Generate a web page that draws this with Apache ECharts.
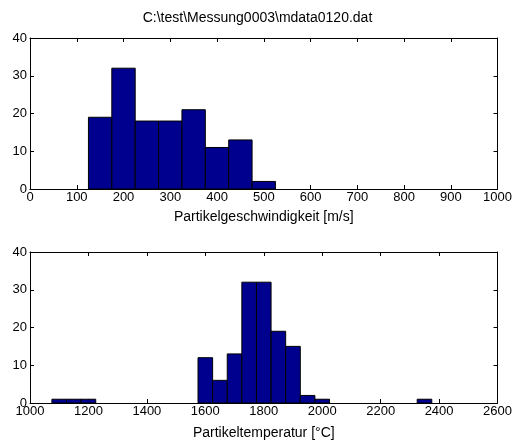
<!DOCTYPE html>
<html>
<head>
<meta charset="utf-8">
<script src="https://cdn.jsdelivr.net/npm/echarts@6/dist/echarts.min.js"></script>
<style>html,body{margin:0;padding:0;background:#fff}#c{width:515px;height:441px}</style>
</head>
<body>
<div id="c"></div>
<script>
// ---- data ----
const titleText = 'C:\\test\\Messung0003\\mdata0120.dat';
const speedBinCenters = [150, 200, 250, 300, 350, 400, 450, 500];
const speedCounts     = [19, 32, 18, 18, 21, 11, 13, 2];
const speedBinWidth = 50;
const tempBinCenters = [1100, 1150, 1200, 1600, 1650, 1700, 1750, 1800, 1850, 1900, 1950, 2000, 2350];
const tempCounts     = [1, 1, 1, 12, 6, 13, 32, 32, 19, 15, 2, 1, 1];
const tempBinWidth = 50;
const speedLabel = 'Partikelgeschwindigkeit [m/s]';
const tempLabel = 'Partikeltemperatur [°C]';
const yTicks = [0, 10, 20, 30, 40];

const FONT = '"Liberation Sans", Arial, sans-serif';
const BAR = '#00008E';

function histRender(width) {
  return function (params, api) {
    const c = api.value(0), v = api.value(1);
    if (!v) return null;
    const p0 = api.coord([c - width / 2, 0]);
    const p1 = api.coord([c + width / 2, v]);
    return {
      type: 'rect',
      shape: { x: p0[0], y: p1[1], width: p1[0] - p0[0], height: p0[1] - p1[1] },
      style: { fill: BAR, stroke: '#000', lineWidth: 1 }
    };
  };
}

const axisLine = { show: true, onZero: false, lineStyle: { color: '#000', width: 1 } };
const tickIn = { show: true, inside: true, length: 4, lineStyle: { color: '#000' } };
const lbl = { color: '#000', fontSize: 13, fontFamily: FONT, formatter: v => String(v) };

function xAxes(grid, min, max, interval, name, gap) {
  return [
    { type: 'value', gridIndex: grid, position: 'bottom', min, max, interval,
      axisLine, axisTick: tickIn, splitLine: { show: false },
      axisLabel: Object.assign({ margin: 2 }, lbl),
      name, nameLocation: 'middle', nameGap: gap,
      nameTextStyle: { color: '#000', fontSize: 14, fontFamily: FONT } },
    { type: 'value', gridIndex: grid, position: 'top', min, max, interval,
      axisLine, axisTick: tickIn, splitLine: { show: false }, axisLabel: { show: false } }
  ];
}
function yAxes(grid) {
  return [
    { type: 'value', gridIndex: grid, position: 'left', min: yTicks[0], max: yTicks[yTicks.length - 1], interval: 10,
      axisLine, axisTick: tickIn, splitLine: { show: false },
      axisLabel: Object.assign({ margin: 3 }, lbl) },
    { type: 'value', gridIndex: grid, position: 'right', min: 0, max: 40, interval: 10,
      axisLine, axisTick: tickIn, splitLine: { show: false }, axisLabel: { show: false } }
  ];
}

const option = {
  animation: false,
  backgroundColor: '#fff',
  title: { text: titleText, left: 'center', top: 6,
    textStyle: { color: '#000', fontSize: 14, fontWeight: 'normal', fontFamily: FONT } },
  grid: [
    { left: 30, right: 17, top: 38, height: 151 },
    { left: 30, right: 17, top: 252, height: 151 }
  ],
  xAxis: [...xAxes(0, 0, 1000, 100, speedLabel, 21), ...xAxes(1, 1000, 2600, 200, tempLabel, 23)],
  yAxis: [...yAxes(0), ...yAxes(1)],
  series: [
    { type: 'custom', xAxisIndex: 0, yAxisIndex: 0, renderItem: histRender(speedBinWidth),
      encode: { x: 0, y: 1 }, data: speedBinCenters.map((c, i) => [c, speedCounts[i]]) },
    { type: 'custom', xAxisIndex: 2, yAxisIndex: 2, renderItem: histRender(tempBinWidth),
      encode: { x: 0, y: 1 }, data: tempBinCenters.map((c, i) => [c, tempCounts[i]]) }
  ]
};
echarts.init(document.getElementById('c'), null, { renderer: 'canvas' }).setOption(option);
</script>
</body>
</html>
